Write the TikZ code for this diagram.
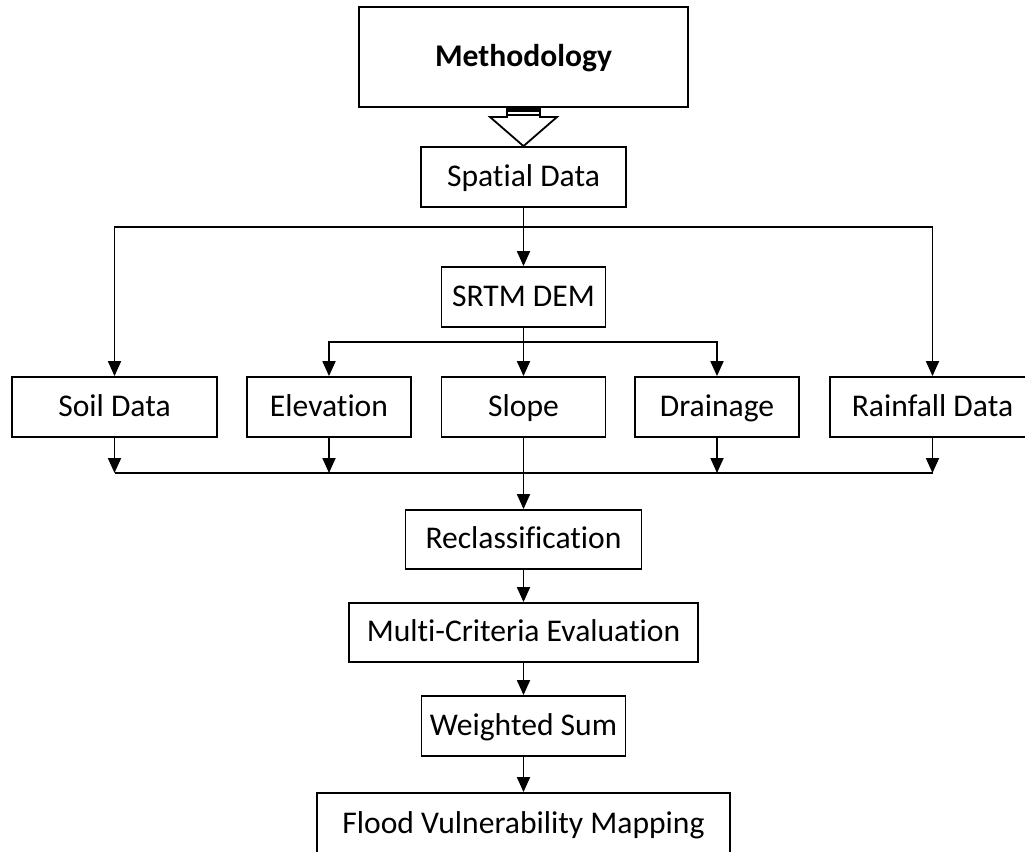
\documentclass[tikz,border=0pt]{standalone}
\usepackage{fontspec}
\setmainfont{Carlito}[Ligatures=NoCommon]
\usepackage{tikz}
\usetikzlibrary{
  arrows.meta,
  positioning,
  calc
}

\begin{document}
\begin{tikzpicture}[
    x=0.5pt,
    y=-0.5pt,
    >={Triangle[length=7.5pt,width=6.5pt]},
    line width=0.9pt,
    procbox/.style={draw,line width=0.9pt,minimum height=30pt,
      inner sep=0pt,text height=12.5pt,text depth=3.5pt,
      font=\fontsize{15.8}{19}\selectfont},
    ]

    \useasboundingbox (0,0) rectangle (1025,852);

    \node[procbox,minimum width=164.5pt,minimum height=50pt,
      font=\fontsize{15.8}{19}\selectfont\bfseries]
      (meth) at (523.5,57) {Methodology};

    \node[procbox,minimum width=102.5pt] (spatial) at (523.5,177) {Spatial Data};
    \node[procbox,minimum width=82pt] (srtm) at (523.5,297) {SRTM DEM};

    \node[procbox,minimum width=102.5pt] (soil) at (114.5,407) {Soil Data};
    \node[procbox,minimum width=82pt] (elev) at (329,407) {Elevation};
    \node[procbox,minimum width=82pt] (slope) at (523.5,407) {Slope};
    \node[procbox,minimum width=82pt] (drain) at (717,407) {Drainage};
    \node[procbox,minimum width=102.5pt] (rain) at (932.5,407) {Rainfall Data};

    \node[procbox,minimum width=118pt,minimum height=29.5pt]
      (reclass) at (523.5,539.5) {Reclassification};
    \node[procbox,minimum width=174.5pt,minimum height=29.5pt]
      (mce) at (523.5,632.5) {Multi-Criteria Evaluation};
    \node[procbox,minimum width=102pt] (wsum) at (523.5,726) {Weighted Sum};
    \node[procbox,minimum width=206.5pt,minimum height=31pt]
      (flood) at (523.5,824) {Flood Vulnerability Mapping};

    % hollow arrow
    \draw (meth.south -| 507,0) -- (507,117) -- (490,117)
      -- (spatial.north) -- (557,117) -- (540,117) -- (meth.south -| 540,0);
    \draw[line width=1.6pt] (507,110) -- (540,110);
    \draw (507,115) -- (540,115);

    % branches
    \coordinate (split) at (523.5,227);
    \coordinate (splitdem) at (523.5,342);
    \coordinate (merge) at (523.5,473);

    \draw[->] (spatial) -- (srtm);
    \draw[->] (split) -| (soil);
    \draw[->] (split) -| (rain);

    \draw[->] (srtm) -- (slope);
    \draw[->] (splitdem) -| (elev);
    \draw[->] (splitdem) -| (drain);

    \draw (soil.south |- merge) -- (rain.south |- merge);
    \foreach \n in {soil,elev,drain,rain}
      \draw[->] (\n.south) -- (\n.south |- merge);
    \draw[->] (slope) -- (reclass);

    \draw[->] (reclass) -- (mce);
    \draw[->] (mce) -- (wsum);
    \draw[->] (wsum) -- (flood);

\end{tikzpicture}
\end{document}
